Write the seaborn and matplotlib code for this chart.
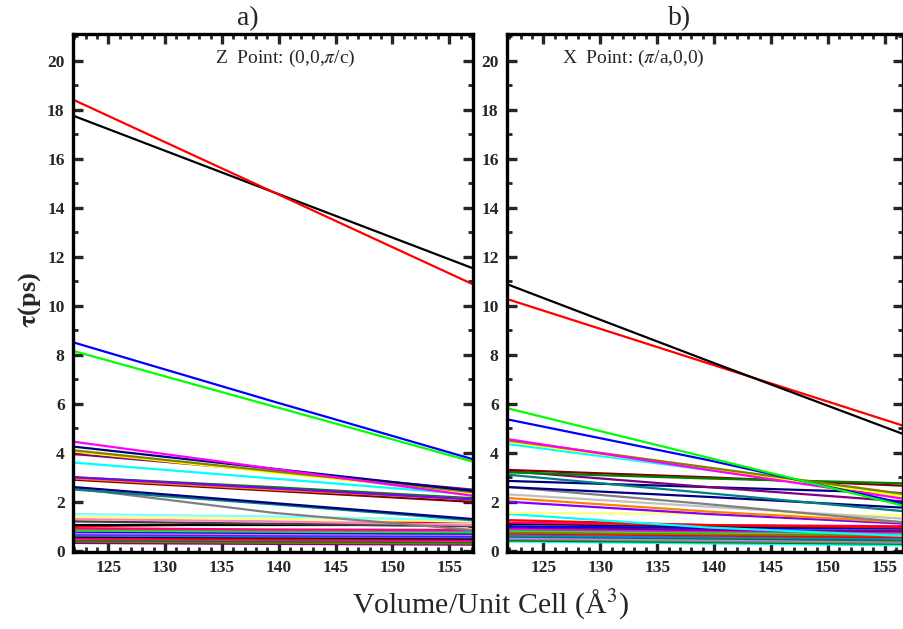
import numpy as np
import pandas as pd
import matplotlib
matplotlib.use("Agg")
import matplotlib.pyplot as plt
import seaborn as sns
from matplotlib.ticker import MultipleLocator

sns.set_theme(style="white")
plt.rcParams['font.family'] = ['Liberation Serif', 'DejaVu Serif']
plt.rcParams['mathtext.fontset'] = 'stix'

# Volume points (Å^3)
volumes = [122.0, 139.5, 157.0]

# ---- Panel a) Z point: tau (ps) at the three volumes ----
a_start = [18.4, 17.75, 8.5, 8.15, 4.45, 4.25, 4.1, 4.05, 3.95, 3.6, 3.0, 2.95, 2.9, 3.0,
           2.6, 2.5, 2.55, 1.5, 1.38, 1.3, 1.2, 1.05, 1.0, 0.92, 0.88, 0.82, 0.78, 0.72,
           0.68, 0.62, 0.58, 0.52, 0.48, 0.42, 0.38, 0.32]
a_mid = [14.65, 14.65, 6.1, 5.9, 3.35, 3.35, 3.25, 3.2, 3.25, 2.95, 2.55, 2.5, 2.45, 2.6,
         1.95, 1.9, 1.55, 1.4, 1.3, 1.2, 1.1, 1.05, 1.1, 0.87, 0.83, 0.78, 0.73, 0.68,
         0.63, 0.58, 0.54, 0.47, 0.44, 0.38, 0.33, 0.28]
a_end = [10.9, 11.55, 3.75, 3.65, 2.25, 2.45, 2.4, 2.35, 2.5, 2.3, 2.1, 2.1, 2.0, 2.15,
         1.3, 1.25, 0.85, 1.25, 1.2, 1.05, 1.0, 1.05, 1.2, 0.85, 0.8, 0.75, 0.7, 0.65,
         0.6, 0.55, 0.5, 0.45, 0.4, 0.35, 0.3, 0.25]
a_colors = ['#FF0000', '#000000', '#0000FF', '#00FF00', '#FF00FF', '#000080', '#808000',
            '#FFFF00', '#800080', '#00FFFF', '#8000FF', '#FF8000', '#800000', '#008000',
            '#000080', '#008080', '#808080', '#80FFFF', '#FFFF80', '#FF80C0', '#404040',
            '#000000', '#FF0000', '#FF0080', '#808080', '#00FF00', '#0000FF', '#C080FF',
            '#8000FF', '#0080FF', '#000000', '#FF0000', '#FF00FF', '#008000', '#808000',
            '#800080']

# ---- Panel b) X point ----
b_start = [10.85, 10.25, 5.8, 5.35, 4.55, 4.5, 4.45, 4.35, 3.2, 3.3, 3.25, 3.1, 2.85,
           2.6, 2.6, 2.3, 2.15, 2.0, 1.55, 1.5, 1.25, 1.15, 1.1, 1.0, 0.95, 0.88, 0.82,
           0.75, 0.7, 0.62, 0.58, 0.52, 0.48, 0.42, 0.38]
b_mid = [7.75, 7.65, 3.8, 3.7, 3.3, 3.4, 3.35, 3.3, 2.95, 3.0, 2.6, 2.35, 2.6,
         2.2, 1.9, 1.8, 1.6, 1.5, 1.5, 0.95, 1.05, 1.05, 1.0, 0.93, 0.85, 0.8, 0.75,
         0.68, 0.62, 0.55, 0.5, 0.45, 0.4, 0.35, 0.3]
b_end = [4.7, 5.05, 1.8, 1.9, 2.1, 2.3, 2.2, 2.25, 2.75, 2.65, 2.0, 1.6, 2.35,
         1.75, 1.15, 1.3, 1.15, 1.1, 1.45, 0.6, 0.95, 1.0, 0.95, 0.9, 0.8, 0.75, 0.7,
         0.62, 0.55, 0.5, 0.42, 0.38, 0.32, 0.28, 0.22]
b_colors = ['#000000', '#FF0000', '#00FF00', '#0000FF', '#FF00FF', '#808000', '#FFFF00',
            '#00FFFF', '#008000', '#800000', '#800080', '#008080', '#000080',
            '#000080', '#808080', '#C0C0C0', '#FF8000', '#8000FF', '#FFFF80', '#00FFFF',
            '#FF0000', '#FF0080', '#000000', '#0000FF', '#800080', '#FF00FF', '#00FF00',
            '#808000', '#FF0000', '#0080FF', '#008000', '#C080FF', '#808080', '#008000',
            '#00FFFF']


def long_frame(start, mid, end):
    rows = []
    for i, (s, m, e) in enumerate(zip(start, mid, end)):
        for v, t in zip(volumes, (s, m, e)):
            rows.append({'V': v, 'tau': t, 'mode': f'm{i:02d}'})
    return pd.DataFrame(rows)


fig = plt.figure(figsize=(9.04, 6.29), dpi=100)
ax_a = fig.add_axes([73 / 904, 1 - 552 / 629, 400 / 904, (552 - 34) / 629])
ax_b = fig.add_axes([507 / 904, 1 - 552 / 629, 396 / 904, (552 - 34) / 629])

panels = [
    (ax_a, long_frame(a_start, a_mid, a_end), a_colors, (121.9, 157.1), 'a)',
     r'Z  Point: (0,0,$\pi$/c)', 0.53, (248 - 73) / 400),
    (ax_b, long_frame(b_start, b_mid, b_end), b_colors, (121.8, 156.6), 'b)',
     r'X  Point: ($\pi$/a,0,0)', 0.32, (680 - 507) / 396),
]

for ax, df, cols, xlim, tag, note, nx, tx in panels:
    # draw in reverse so the first-listed lines end on top
    order = list(df['mode'].unique())[::-1]
    pal = dict(zip(df['mode'].unique(), cols))
    sns.lineplot(data=df, x='V', y='tau', hue='mode', hue_order=order,
                 palette=pal, legend=False, linewidth=1.6, ax=ax,
                 estimator=None, sort=False)
    ax.set_xlim(*xlim)
    ax.set_ylim(-0.05, 21.1)
    ax.xaxis.set_major_locator(MultipleLocator(5))
    ax.xaxis.set_minor_locator(MultipleLocator(1))
    ax.yaxis.set_major_locator(MultipleLocator(2))
    ax.yaxis.set_minor_locator(MultipleLocator(1))
    ax.tick_params(which='both', direction='in', top=True, right=True,
                   bottom=True, left=True)
    ax.tick_params(which='major', length=7, width=2.4, labelsize=12.5, pad=6)
    ax.tick_params(which='minor', length=3.5, width=2.0)
    for lab in ax.get_xticklabels() + ax.get_yticklabels():
        lab.set_fontweight('bold')
    for sp in ax.spines.values():
        sp.set_linewidth(2.4)
        sp.set_color('black')
    ax.set_xlabel('')
    ax.set_ylabel('')
    ax.text(nx, 0.952, note, transform=ax.transAxes, ha='center', va='center',
            fontsize=14)
    ax.text(tx, 1.005, tag, transform=ax.transAxes, ha='center', va='bottom',
            fontsize=20)

fig.text(490 / 904, 1 - 605 / 629, r'Volume/Unit Cell (Å$^3$)', ha='center',
         va='center', fontsize=21.5)
fig.text(30 / 904, 1 - 300 / 629, r'$\mathbf{\tau}$(ps)', rotation=90, ha='center',
         va='center', fontsize=19, fontweight='bold')

fig.savefig('out.png', dpi=100)
